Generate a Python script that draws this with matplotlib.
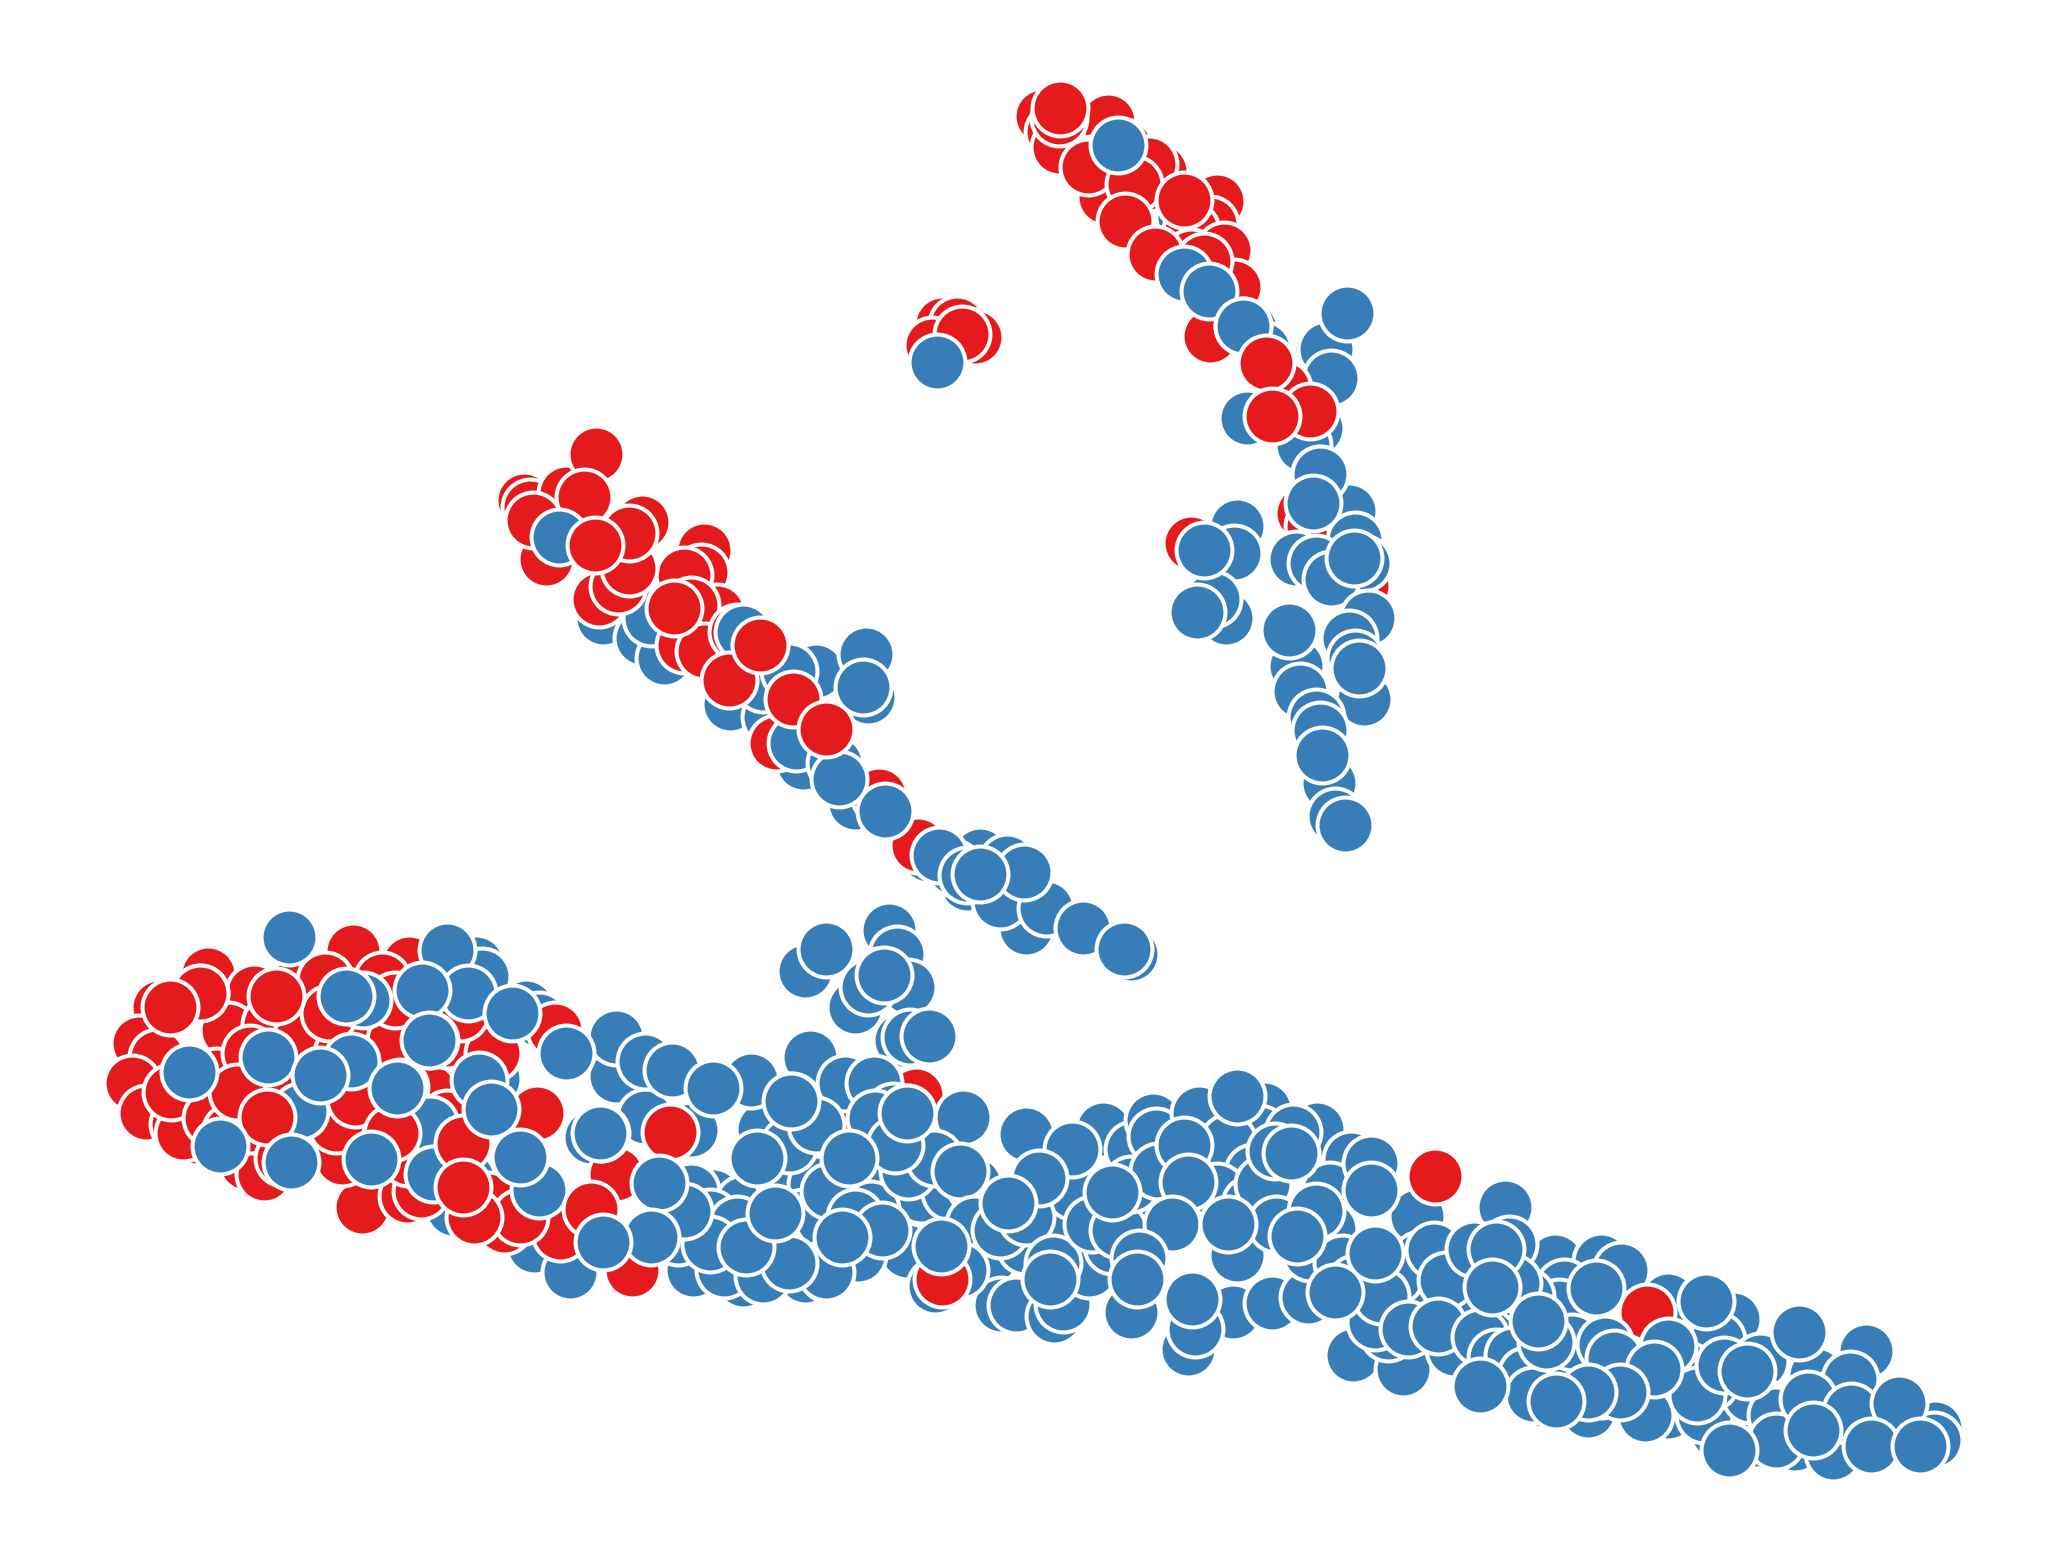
"""
Two-group embedding scatter, red and blue points on a white background.
Values were read off the picture, so the units are picture units.
"""

import matplotlib
matplotlib.use("Agg")
import matplotlib.pyplot as plt

RED = "#E41A1C"
BLUE = "#377EB8"

# upper arm
upper_blue_1 = [(825, 125), (900, 165), (925, 205), (935, 215), (950, 250), (960, 265), (1005, 265), (1000, 325), (990, 338)]
upper_red_1 = [(792, 88), (800, 100), (805, 112), (842, 92), (805, 90), (855, 112), (882, 130), (925, 153), (920, 170),
               (905, 175), (930, 190), (870, 140), (840, 150), (905, 195), (938, 218), (920, 255), (830, 125)]
upper_blue_2 = [(948, 318), (1008, 265), (1012, 287), (1024, 238), (945, 248)]
upper_red_2 = [(806, 82), (827, 127), (873, 125), (862, 140), (900, 152), (855, 168), (878, 193), (915, 198)]
upper_blue_3 = [(850, 110), (900, 208), (919, 221), (945, 248)]
upper_red_3 = [(975, 295), (996, 312), (962, 276), (967, 316)]

# right column
column_red = [(990, 390), (998, 400), (1035, 445), (905, 413)]
column_blue_1 = [(1003, 360), (1025, 388), (1030, 410), (1036, 428), (985, 425), (1000, 428), (1012, 440),
                 (1040, 470), (1025, 485), (1030, 500), (1037, 531), (985, 506), (988, 525), (1000, 545), (1003, 555),
                 (1010, 595), (1015, 620), (940, 400), (938, 420), (932, 470), (922, 455)]
column_blue_2 = [(1003, 360), (998, 382), (1029, 424), (980, 479), (1033, 508), (1005, 574), (1022, 627), (915, 418), (910, 465)]

# small red knot
knot_red = [(716, 246), (727, 246), (741, 256), (708, 262), (731, 254)]
knot_blue = [(712, 275)]

# middle arm
middle_blue_1 = [(458, 470), (488, 485), (505, 500), (495, 470), (555, 535), (585, 545), (620, 510), (658, 497), (660, 530),
                 (610, 580), (580, 520), (600, 510), (650, 610), (745, 650), (765, 655), (780, 705), (735, 672), (705, 650),
                 (860, 725), (760, 685), (795, 690), (725, 660)]
middle_red_1 = [(398, 380), (403, 385), (415, 425), (430, 375), (405, 395), (453, 345), (488, 397), (535, 418), (533, 435),
                (520, 437), (455, 455), (470, 445), (478, 432), (545, 465), (525, 460), (520, 490), (535, 495), (560, 480),
                (590, 565), (668, 604), (698, 642), (444, 378), (478, 405)]
middle_blue_2 = [(425, 408), (565, 480), (656, 522), (605, 565), (635, 580), (638, 592), (673, 616), (714, 650), (735, 665),
                 (778, 663), (745, 664), (823, 705), (854, 721)]
middle_red_2 = [(452, 414), (512, 462), (554, 517), (578, 490), (603, 531), (628, 554)]

# blue blob under the middle arm
blob_blue = [(612, 738), (676, 707), (682, 725), (650, 765), (690, 750), (667, 742), (685, 790), (692, 788), (660, 750),
             (628, 721), (672, 741), (706, 787)]

# lower band, left end
lower_blue_1 = [(218, 711), (362, 732), (366, 742), (161, 742), (344, 919), (406, 947), (433, 967), (355, 895), (300, 885),
                (320, 870), (270, 860), (250, 845), (240, 830), (400, 765), (410, 775), (375, 820), (468, 818), (490, 849),
                (525, 859), (581, 858), (571, 821), (616, 803), (449, 864), (527, 965), (565, 973), (612, 970), (550, 965)]
lower_red_1 = [(158, 740), (268, 723), (311, 732), (193, 754), (152, 755), (121, 765), (228, 745), (247, 745), (290, 745),
               (173, 783), (205, 778), (106, 793), (119, 803), (100, 823), (164, 818), (146, 833), (111, 846), (135, 854),
               (150, 864), (139, 861), (228, 790), (282, 803), (325, 828), (340, 790), (375, 800), (408, 846), (422, 783),
               (275, 917), (309, 909), (239, 871), (187, 884), (201, 892), (383, 932), (426, 937), (480, 965), (468, 892),
               (371, 912), (320, 905), (130, 830), (160, 850), (175, 860), (190, 855), (220, 830), (260, 800), (285, 775),
               (300, 790), (250, 770), (190, 800), (180, 830), (310, 880), (330, 860), (260, 880), (340, 850), (395, 925),
               (360, 925), (255, 855), (270, 835), (215, 880), (350, 770), (300, 760)]
lower_blue_2 = [(220, 712), (340, 722), (276, 760), (356, 755), (389, 770), (468, 788), (490, 806), (511, 813), (542, 827),
                (430, 800), (304, 826), (364, 821), (327, 790), (267, 806), (228, 844), (327, 854), (410, 904), (329, 892),
                (457, 861), (602, 837), (515, 940), (604, 932), (629, 968), (653, 955), (542, 909), (565, 914), (596, 897)]
lower_red_2 = [(152, 755), (129, 765), (210, 757), (203, 849), (298, 861), (352, 869), (449, 919), (509, 860),
               (637, 857), (696, 832)]
lower_blue_3 = [(263, 757), (321, 752), (204, 803), (243, 817), (144, 815), (373, 843), (395, 879), (167, 871), (221, 883),
                (282, 881), (326, 790), (302, 827)]
lower_red_3 = [(352, 902)]

# lower band, middle
band_blue_1 = [(642, 823), (664, 823), (679, 844), (732, 849), (689, 846), (669, 891), (700, 908), (722, 906), (662, 919),
               (689, 951), (652, 954), (628, 967), (711, 977), (780, 862), (754, 954), (779, 947), (805, 934), (816, 906),
               (838, 858), (815, 873), (861, 873), (876, 851), (879, 863), (761, 992), (772, 992), (801, 1000), (808, 991),
               (828, 965), (845, 947), (876, 916), (915, 886), (911, 846), (961, 843), (957, 861), (1001, 858), (933, 868),
               (952, 891), (1027, 881), (1011, 904), (1010, 934), (923, 997), (937, 997), (860, 997), (903, 1025), (908, 1010),
               (967, 990), (994, 986), (1028, 1030), (1066, 1040), (1055, 1013), (1045, 1005), (940, 954), (996, 952),
               (1077, 924), (1079, 957), (1100, 972), (1077, 995), (525, 905), (540, 925), (620, 900), (740, 900), (1093, 1008),
               (610, 925), (630, 905), (650, 925), (670, 935), (590, 950), (560, 930), (540, 945), (520, 920), (580, 970),
               (600, 960), (640, 940), (690, 890), (710, 880), (730, 890), (740, 930), (730, 965), (760, 935), (780, 925),
               (790, 895), (800, 960), (830, 930), (850, 935), (860, 900), (880, 890), (900, 870), (925, 905), (950, 915),
               (960, 900), (970, 930), (1000, 920), (1020, 960), (1030, 975), (1060, 970), (1050, 985), (1070, 1010),
               (1090, 950), (1105, 1025), (1130, 1005), (600, 870), (575, 880), (620, 855), (665, 850), (680, 870)]
band_red = [(716, 972), (1091, 894)]
band_blue_2 = [(715, 947), (766, 914), (798, 972), (845, 906), (903, 898), (891, 930), (933, 930), (866, 956), (864, 972),
               (906, 987), (940, 833), (983, 860), (969, 875), (981, 876), (1042, 884), (1042, 904), (986, 939), (1045, 952),
               (1015, 982), (645, 880), (689, 846), (501, 899), (495, 940), (567, 948), (589, 922), (458, 944), (456, 861),
               (601, 837), (1110, 991), (1144, 917)]

# lower band, right end
right_blue_1 = [(1182, 958), (1217, 958), (1232, 965), (1189, 978), (1185, 993), (1099, 973), (1093, 1008), (1125, 1016),
                (1268, 988), (1317, 1002), (1305, 1018), (1268, 1073), (1173, 1064), (1207, 1072), (1335, 1094), (1306, 1089),
                (1364, 1097), (1393, 1104), (1471, 1085), (1470, 1094), (1439, 1069), (1418, 1027), (1338, 1034), (1282, 1041),
                (1217, 1056), (1340, 1069), (1314, 1069), (1147, 945), (1137, 1031), (1150, 1030), (1160, 1045), (1165, 1060),
                (1200, 1045), (1195, 1020), (1245, 1030), (1260, 1060), (1250, 1075), (1295, 1075), (1330, 1060), (1300, 1050),
                (1350, 1075), (1380, 1045), (1395, 1075), (1440, 1090), (1420, 1075), (1350, 1095), (1290, 1060), (1175, 1020),
                (1160, 985), (1150, 975)]
right_red = [(1252, 997)]
right_blue_2 = [(1120, 949), (1137, 949), (1134, 978), (1169, 1004), (1213, 979), (1297, 989), (1220, 1021), (1227, 1032),
                (1268, 1023), (1257, 1040), (1231, 1058), (1207, 1058), (1183, 1065), (1310, 1037), (1328, 1042), (1367, 1012),
                (1406, 1048), (1374, 1063), (1407, 1072), (1443, 1066), (1314, 1102), (1378, 1087), (1422, 1099), (1459, 1099),
                (1125, 1053)]

# back to front
draw_order = [
    (BLUE, upper_blue_1), (RED, upper_red_1), (BLUE, upper_blue_2), (RED, upper_red_2),
    (BLUE, upper_blue_3), (RED, upper_red_3),
    (RED, column_red), (BLUE, column_blue_1), (BLUE, column_blue_2),
    (RED, knot_red), (BLUE, knot_blue),
    (BLUE, middle_blue_1), (RED, middle_red_1), (BLUE, middle_blue_2), (RED, middle_red_2),
    (BLUE, blob_blue),
    (BLUE, lower_blue_1), (RED, lower_red_1), (BLUE, lower_blue_2), (RED, lower_red_2),
    (BLUE, lower_blue_3), (RED, lower_red_3),
    (BLUE, band_blue_1), (RED, band_red), (BLUE, band_blue_2),
    (BLUE, right_blue_1), (RED, right_red), (BLUE, right_blue_2),
]

fig = plt.figure(figsize=(20.63, 15.58), dpi=100)
ax = fig.add_axes([0, 0, 1, 1])

for color, points in draw_order:
    xs, ys = zip(*points)
    ax.scatter(xs, ys, s=1620, color=color, edgecolors="white", linewidths=2.9)

ax.set_xlim(0, 1568)
ax.set_ylim(1184, 0)
ax.axis("off")

fig.savefig("out.png", dpi=100, facecolor="white")
